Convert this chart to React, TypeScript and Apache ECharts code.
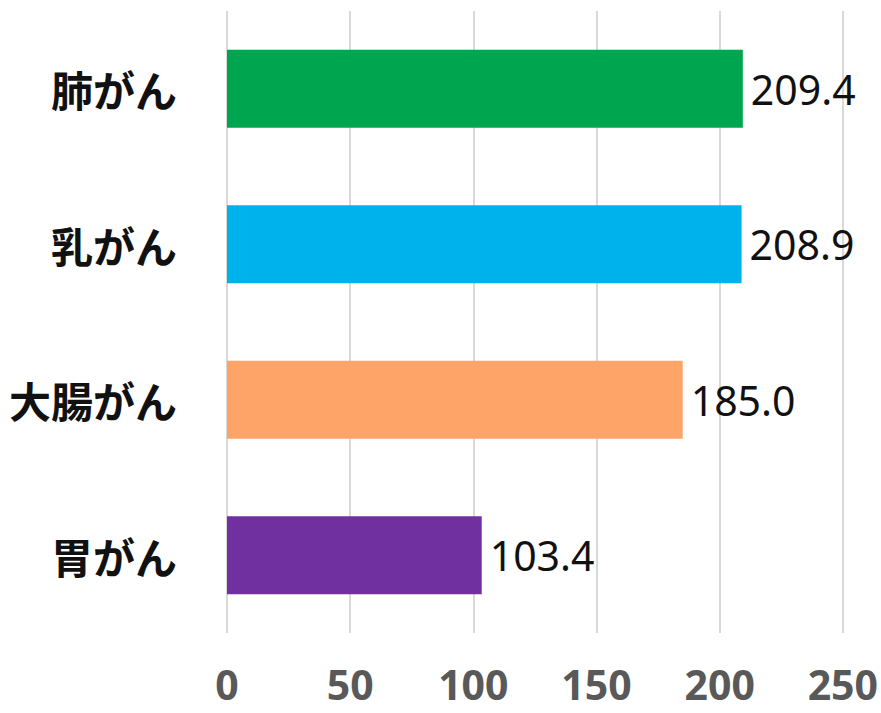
import React, { useEffect, useRef } from "react";
import * as echarts from "echarts";

const categories = ["肺がん", "乳がん", "大腸がん", "胃がん"];
const values = [209.4, 208.9, 185.0, 103.4];
const barColors = ["#00A550", "#00B2EB", "#FFA468", "#7030A0"];
const xTicks = { min: 0, max: 250, interval: 50 };

export default function App() {
  const ref = useRef<HTMLDivElement>(null);
  useEffect(() => {
    document.body.style.margin = "0";
    document.body.style.overflow = "hidden";
    if (!ref.current) return;
    const chart = echarts.init(ref.current, null, { renderer: "svg" });
    chart.setOption({
      animation: false,
      grid: { left: 227, right: 34, top: 11, bottom: 80, containLabel: false },
      xAxis: {
        type: "value",
        min: xTicks.min,
        max: xTicks.max,
        interval: xTicks.interval,
        axisLine: { show: false },
        axisTick: { show: false },
        splitLine: { show: true, lineStyle: { color: "#d9d9d9", width: 2 } },
        axisLabel: {
          color: "#595959",
          fontSize: 41,
          lineHeight: 40,
          fontWeight: "bold",
          fontFamily: "'Noto Sans', sans-serif",
          margin: 31,
        },
      },
      yAxis: {
        type: "category",
        data: categories,
        inverse: true,
        axisLine: { show: false },
        axisTick: { show: false },
        axisLabel: {
          color: "#111",
          fontSize: 42,
          fontWeight: "bold",
          fontFamily: "'Noto Sans CJK JP', sans-serif",
          margin: 50,
        },
      },
      series: [
        {
          type: "bar",
          data: values.map((v, i) => ({ value: v, itemStyle: { color: barColors[i] } })),
          barWidth: 78,
          label: {
            show: true,
            position: "right",
            distance: 8,
            color: "#111",
            fontSize: 41,
            fontFamily: "'Noto Sans', sans-serif",
            formatter: (p: any) => Number(p.value).toFixed(1),
          },
        },
      ],
    });
    return () => chart.dispose();
  }, []);
  return <div ref={ref} style={{ width: 881, height: 713 }} />;
}
